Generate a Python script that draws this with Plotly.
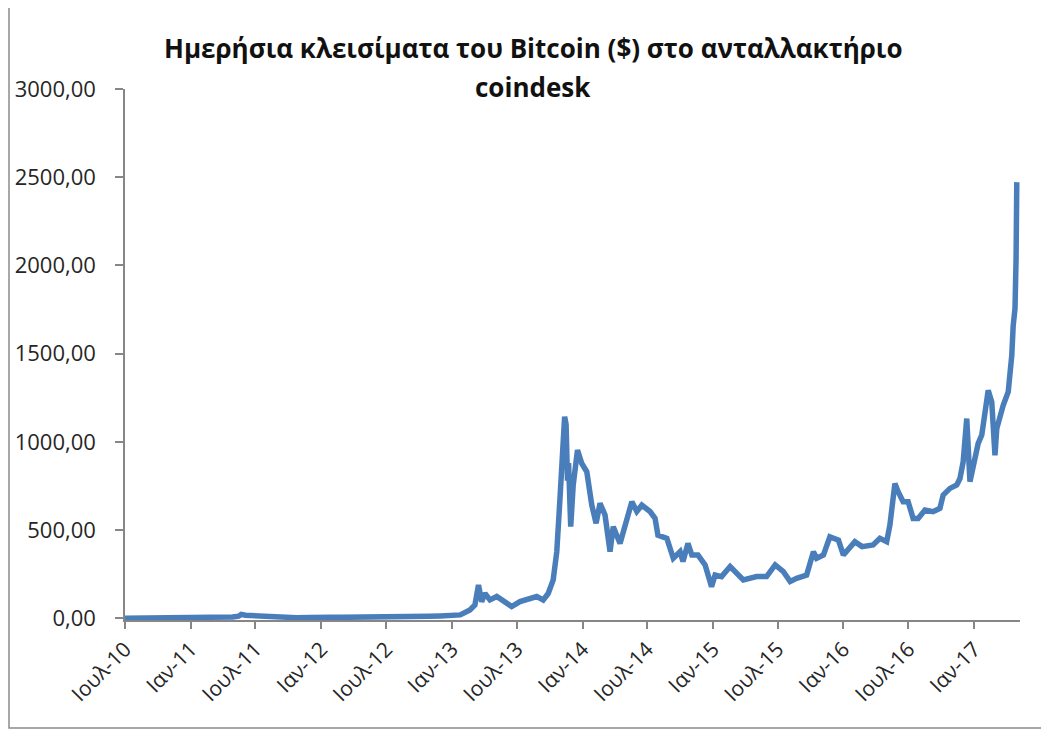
import plotly.graph_objects as go

# ---- data ----
dates = [
    "2010-07-18", "2010-08-15", "2010-09-15", "2010-10-15", "2010-11-10", "2010-12-15",
    "2011-01-15", "2011-02-10", "2011-03-15", "2011-04-20", "2011-05-15", "2011-06-01",
    "2011-06-08", "2011-06-20", "2011-07-10", "2011-08-10", "2011-09-10", "2011-10-10",
    "2011-11-10", "2011-12-15", "2012-01-10", "2012-02-15", "2012-03-15", "2012-04-15",
    "2012-05-15", "2012-06-15", "2012-07-15", "2012-08-15", "2012-09-15", "2012-10-15",
    "2012-11-15", "2012-12-16", "2013-01-15", "2013-02-10", "2013-03-09", "2013-03-23",
    "2013-04-02", "2013-04-11", "2013-04-20", "2013-05-04", "2013-05-23", "2013-06-15",
    "2013-07-04", "2013-07-27", "2013-08-20", "2013-09-12", "2013-09-30", "2013-10-14",
    "2013-10-28", "2013-11-07", "2013-11-16", "2013-11-24", "2013-11-29", "2013-12-03",
    "2013-12-07", "2013-12-10", "2013-12-16", "2013-12-23", "2014-01-04", "2014-01-16",
    "2014-01-30", "2014-02-13", "2014-02-25", "2014-03-08", "2014-03-22", "2014-04-05",
    "2014-04-14", "2014-05-03", "2014-05-22", "2014-06-05", "2014-06-19", "2014-07-03",
    "2014-07-26", "2014-08-09", "2014-08-17", "2014-09-11", "2014-09-29", "2014-10-18",
    "2014-10-26", "2014-11-09", "2014-11-20", "2014-12-07", "2014-12-27", "2015-01-14",
    "2015-01-24", "2015-02-11", "2015-03-07", "2015-03-25", "2015-04-13", "2015-05-20",
    "2015-06-17", "2015-07-11", "2015-08-03", "2015-08-22", "2015-09-09", "2015-10-07",
    "2015-10-26", "2015-11-04", "2015-11-23", "2015-12-11", "2016-01-04", "2016-01-18",
    "2016-02-01", "2016-02-19", "2016-03-10", "2016-04-01", "2016-04-10", "2016-04-29",
    "2016-05-18", "2016-05-27", "2016-06-05", "2016-06-10", "2016-06-19", "2016-07-03",
    "2016-07-17", "2016-07-31", "2016-08-14", "2016-09-02", "2016-09-25", "2016-10-14",
    "2016-10-23", "2016-11-11", "2016-11-30", "2016-12-09", "2016-12-18", "2016-12-28",
    "2017-01-06", "2017-01-20", "2017-01-29", "2017-02-08", "2017-02-17", "2017-02-26",
    "2017-03-08", "2017-03-17", "2017-03-22", "2017-03-31", "2017-04-09", "2017-04-23",
    "2017-05-03", "2017-05-07", "2017-05-12", "2017-05-15", "2017-05-17",
]
prices = [
    0.09, 0.07, 0.06, 0.1, 0.3, 0.24,
    0.4, 1.0, 0.9, 1.7, 7, 12,
    22, 17, 14, 10, 5, 4,
    3, 3.5, 7, 5, 5, 5,
    5, 6.5, 8, 11, 11, 12,
    11, 13, 14, 19, 47, 75,
    188, 94, 141, 104, 123, 94,
    66, 94, 113, 123, 104, 140,
    217, 377, 679, 962, 1142, 1100,
    780, 880, 519, 755, 953, 877,
    830, 641, 538, 651, 585, 377,
    519, 424, 547, 660, 605, 641,
    605, 566, 471, 453, 340, 377,
    322, 424, 358, 358, 302, 179,
    245, 236, 293, 255, 217, 236,
    236, 302, 264, 208, 226, 245,
    377, 340, 358, 462, 443, 358,
    396, 434, 406, 415, 415, 453,
    434, 528, 660, 764, 717, 660,
    660, 566, 566, 613, 604, 623,
    698, 736, 755, 792, 887, 1132,
    774, 887, 991, 1038, 1189, 1292,
    1226, 924, 1075, 1151, 1207, 1283,
    1490, 1660, 1755, 2038, 2472,
]

x_tick_dates = [
    "2010-07-18", "2011-01-18", "2011-07-18", "2012-01-18", "2012-07-18",
    "2013-01-18", "2013-07-18", "2014-01-18", "2014-07-18", "2015-01-18",
    "2015-07-18", "2016-01-18", "2016-07-18", "2017-01-18",
]
x_tick_labels = [
    "Ιουλ-10", "Ιαν-11", "Ιουλ-11", "Ιαν-12", "Ιουλ-12", "Ιαν-13", "Ιουλ-13",
    "Ιαν-14", "Ιουλ-14", "Ιαν-15", "Ιουλ-15", "Ιαν-16", "Ιουλ-16", "Ιαν-17",
]
y_tick_values = [0, 500, 1000, 1500, 2000, 2500, 3000]
y_tick_labels = ["0,00", "500,00", "1000,00", "1500,00", "2000,00", "2500,00", "3000,00"]

title_line1 = "Ημερήσια κλεισίματα του Bitcoin ($) στο ανταλλακτήριο"
title_line2 = "coindesk"

# ---- figure ----
OFF = 8                     # default page margin of the html body
W, H = 1049 - OFF, 736 - OFF
# target page-pixel positions of the plot area, converted to figure pixels
L, R, T, B = 125 - OFF, 1020 - OFF, 89 - OFF, 620 - OFF
FONT = "Open Sans"
AXIS_COL = "#868686"

fig = go.Figure()
fig.add_trace(go.Scatter(
    x=dates, y=prices, mode="lines",
    line=dict(color="#4A7EBB", width=5.5),
    hoverinfo="x+y", showlegend=False,
))

def px_x(px):
    return (px - OFF - L) / (R - L)

def px_y(py):
    return (B - (py - OFF)) / (B - T)

fig.update_layout(
    width=W, height=H,
    margin=dict(l=L, r=W - R, t=T, b=H - B, pad=0, autoexpand=False),
    paper_bgcolor="white", plot_bgcolor="white",
    font=dict(family=FONT, color="#262626"),
    xaxis=dict(
        type="date",
        range=["2010-07-18", "2017-05-26"],
        tickmode="array", tickvals=x_tick_dates, ticktext=x_tick_labels,
        tickangle=-45, tickfont=dict(size=21, family=FONT, color="#262626"),
        showgrid=False, zeroline=False,
        showline=True, linecolor=AXIS_COL, linewidth=1.5,
        ticks="outside", ticklen=7, tickcolor=AXIS_COL, tickwidth=1.5,
        layer="below traces", automargin=False,
    ),
    yaxis=dict(
        range=[-10, 3000],
        tickmode="array", tickvals=y_tick_values, ticktext=y_tick_labels,
        tickfont=dict(size=22, family=FONT, color="#262626"),
        showgrid=False, zeroline=False,
        showline=True, linecolor=AXIS_COL, linewidth=1.5,
        ticks="outside", ticklen=8, tickcolor=AXIS_COL, tickwidth=1.5,
        ticklabelstandoff=15,
        layer="below traces", automargin=False,
    ),
    annotations=[
        dict(text="<b>" + title_line1 + "</b>", xref="paper", yref="paper",
             x=px_x(533), y=px_y(48), xanchor="center", yanchor="middle",
             showarrow=False, font=dict(size=26, family=FONT, color="#111111")),
        dict(text="<b>" + title_line2 + "</b>", xref="paper", yref="paper",
             x=px_x(533), y=px_y(87), xanchor="center", yanchor="middle",
             showarrow=False, font=dict(size=26, family=FONT, color="#111111")),
    ],
    shapes=[
        dict(type="rect", xref="paper", yref="paper",
             x0=px_x(9), x1=px_x(1043), y0=px_y(728), y1=px_y(4),
             line=dict(color="#8c8c8c", width=1.5), fillcolor="rgba(0,0,0,0)",
             layer="below"),
    ],
)

fig.write_html("out.html")
